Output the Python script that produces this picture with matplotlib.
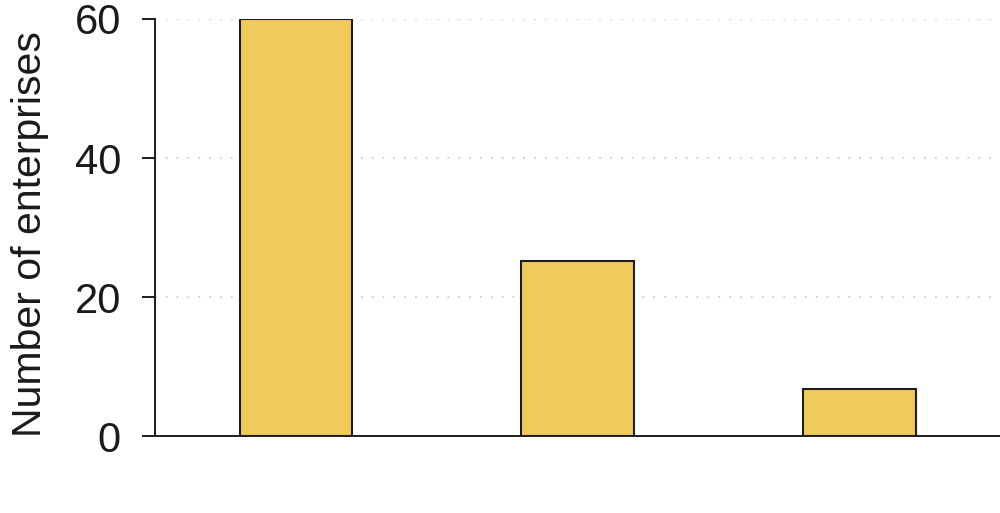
import numpy as np
import matplotlib
matplotlib.use("Agg")
import matplotlib.pyplot as plt

plt.rcParams['font.family'] = ['Liberation Sans', 'DejaVu Sans']

# data
categories = ["A", "B", "C"]
counts = [60, 25.2, 6.8]
y_ticks = [0, 20, 40, 60]

fig = plt.figure(figsize=(10, 5.13), dpi=100)
ax = fig.add_axes([0.155, 0.150, 0.845, 0.813])

x = np.arange(len(categories))
ax.bar(x, counts, width=0.4, color="#F0CA5A", edgecolor="#1e1e1e",
       linewidth=1.5, zorder=3)

ax.set_xlim(-0.5, 2.5)
ax.set_ylim(0, 60)
ax.set_yticks(y_ticks)
ax.set_xticks([])
ax.yaxis.grid(True, linestyle=(0, (1, 5)), color="#cfcfcf", linewidth=1.3, zorder=0)

for s in ["top", "right"]:
    ax.spines[s].set_visible(False)
for s in ["left", "bottom"]:
    ax.spines[s].set_color("#1e1e1e")
    ax.spines[s].set_linewidth(1.4)

ax.tick_params(axis="y", length=9.5, width=1.4, color="#1e1e1e",
               labelsize=30, pad=15, labelcolor="#1a1a1a")
ax.set_ylabel("Number of enterprises", fontsize=29.5, color="#1a1a1a",
              va="center", ha="center")
ax.yaxis.set_label_coords(-0.148, 0.485)

fig.savefig("out.png", dpi=100)
